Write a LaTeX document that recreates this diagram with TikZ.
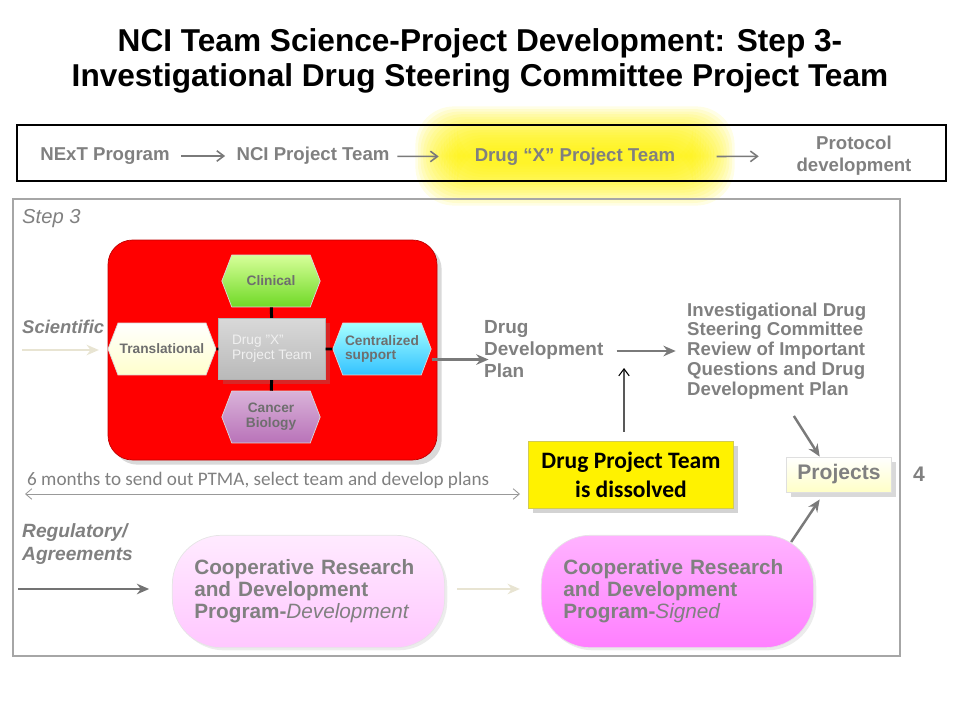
\documentclass[tikz,border=0pt]{standalone}
\usepackage{fontspec}
\setmainfont{Liberation Sans}
\newfontfamily\calib{Carlito}
\usetikzlibrary{arrows.meta,shapes.symbols,shadows}

\definecolor{txtgray}{HTML}{808080}
\definecolor{hexgray}{HTML}{6E6E6E}
\definecolor{arrgray}{HTML}{7A7A7A}
\definecolor{palearr}{HTML}{E8E4D2}
\definecolor{framegray}{HTML}{A6A6A6}

\tikzset{
  hexa/.style={signal, signal to=east and west, signal pointer angle=138,
    minimum width=56pt, minimum height=29.5pt, inner sep=1pt, draw=white!70!gray,
    font=\bfseries\fontsize{7.8}{8.4}\selectfont, text=hexgray, align=left},
  flow/.style={-{Stealth[length=7pt,width=6pt]}, line width=1.4pt, draw=arrgray},
  toparr/.style={-{Straight Barb[length=4pt,width=6pt]}, line width=0.9pt, draw=arrgray},
  graytxt/.style={text=txtgray, font=\bfseries\fontsize{10.6}{12}\selectfont},
  crdbox/.style={rounded corners=28pt, minimum width=155pt, minimum height=64pt,
    text width=130pt, inner xsep=12.5pt, align=left, text=txtgray, draw=white!80!gray,
    font=\bfseries\fontsize{11.8}{12.6}\selectfont, drop shadow={opacity=0.15, shadow xshift=1.5pt, shadow yshift=-1.5pt}}
}

\begin{document}
\begin{tikzpicture}[x=0.02cm,y=-0.02cm]
\useasboundingbox (0,0) rectangle (960,720);

% title
\node[align=center, font=\bfseries\fontsize{18}{19.5}\selectfont] (title) at (480,61)
  {NCI Team Science-Project Development: Step 3-\\Investigational Drug Steering Committee Project Team};

% glow and top strip
\foreach \i in {0,...,16}
  \fill[yellow, opacity=0.1, rounded corners=22pt] (457-2.6*\i,148-2.6*\i) rectangle (693+2.6*\i,164+2.6*\i);
\draw[line width=1.2pt] (17,125) rectangle (946,181);
\node[graytxt] (next) at (105,156) {NExT Program};
\node[graytxt] (nci) at (313,156) {NCI Project Team};
\node[graytxt] (dxt) at (575,157) {Drug “X” Project Team};
\node[graytxt, align=center, font=\bfseries\fontsize{10.6}{12.5}\selectfont] (prot) at (854,156) {Protocol\\development};
\draw[toparr, shorten <=3pt, shorten >=3pt] (next) -- (nci);
\draw[toparr, shorten <=1pt, shorten >=17pt] (nci) -- (dxt);
\draw[toparr, shorten <=20pt, shorten >=18pt] (dxt) -- (prot);

% step 3 frame
\draw[framegray, line width=1.2pt] (13,199) rectangle (900,656);
\node[anchor=west, text=txtgray, font=\itshape\fontsize{11.5}{13}\selectfont] (step) at (16,219) {Step 3};

% team block
\draw[fill=red, draw=red!75!black, rounded corners=14pt, drop shadow={opacity=0.3}] (108,240) rectangle (437,460);
\node[hexa, top color=green!20!lime!40!white, bottom color=green!45!lime!70!gray] (cli) at (271,281) {Clinical};
\node[hexa, top color=white, bottom color=yellow!20!white] (trans) at (162,349) {Translational};
\node[hexa, top color=cyan!35!white, bottom color=cyan!70!blue!80!white] (cen) at (382,349) {Centralized\\support};
\node[hexa, top color=violet!30!white, bottom color=violet!55!white, align=center] (canc) at (271,417) {Cancer\\Biology};
\node[top color=gray!30, bottom color=gray!55, draw=gray!60, minimum width=60.7pt, minimum height=35pt,
  align=left, text=white!88!gray, font=\fontsize{7.8}{8.6}\selectfont, drop shadow={opacity=0.3}] (cbox) at (272,349) {Drug "X"\\Project Team};
\draw[line width=1.7pt] (cbox) -- (cli);
\draw[line width=1.7pt] (cbox) -- (canc);
\draw[line width=1.7pt] (cbox) -- (trans);
\draw[line width=1.7pt] (cbox) -- (cen);

\node[anchor=west, text=txtgray, font=\bfseries\itshape\fontsize{10.5}{12}\selectfont] (sci) at (16,327) {Scientific};
\coordinate (scin) at (22,350);
\draw[flow, draw=palearr, line width=1.2pt, shorten >=5pt] (scin) -- (trans.west |- scin);

% plan and review
\node[graytxt, anchor=west, align=left, font=\bfseries\fontsize{10.8}{12.5}\selectfont] (ddp) at (478,349) {Drug\\Development\\Plan};
\node[graytxt, anchor=west, align=left, font=\bfseries\fontsize{10.6}{11.3}\selectfont] (idsc) at (681,351)
  {Investigational Drug\\Steering Committee\\Review of  Important\\Questions and Drug\\Development Plan};
\draw[flow] ([yshift=-6pt]cen.east) -- ([yshift=-6pt,xshift=6pt]ddp.west);
\draw[flow, shorten <=4pt, shorten >=3pt] (ddp.east |- idsc.west) -- (idsc.west);

\node[fill=yellow, draw=yellow!60!gray, minimum width=117pt, minimum height=38pt, align=center,
  font=\calib\bfseries\fontsize{13.4}{16.4}\selectfont, drop shadow={opacity=0.35}] (dpt) at (631,474.5)
  {Drug Project Team\\is dissolved};
\coordinate (up) at (624,368);
\draw[-{Straight Barb[length=4pt,width=6pt]}, line width=0.6pt, shorten <=5pt] ([xshift=-4pt]dpt.north) -- (up);

\node[top color=white, bottom color=yellow!22!white, draw=white!75!gray, minimum width=60pt, minimum height=20pt,
  text=txtgray, font=\bfseries\fontsize{12}{14}\selectfont, drop shadow={opacity=0.3}] (proj) at (839,474.5) {Projects};
\node[text=txtgray, font=\bfseries\fontsize{12}{14}\selectfont] (four) at (919,474) {4};
\draw[flow, shorten <=7pt] ([xshift=6pt]idsc.south) -- ([xshift=-11pt]proj.north);

% time line
\node[anchor=west, text=txtgray, font=\calib\fontsize{10.9}{12}\selectfont] (months) at (21,480)
  {6 months to send out PTMA, select team and develop plans};
\coordinate (ma) at (25,494);
\coordinate (mb) at (520,494);
\draw[{Straight Barb[length=3.5pt,width=6pt]}-{Straight Barb[length=3.5pt,width=6pt]}, line width=0.5pt, draw=gray!80] (ma) -- (mb);

% agreements
\node[anchor=west, align=left, text=txtgray, font=\bfseries\itshape\fontsize{10.9}{13.6}\selectfont] (reg) at (16,544)
  {Regulatory/\\Agreements};
\node[crdbox, top color=magenta!8!white, bottom color=magenta!22!white] (crd1) at (308.5,591.5)
  {Cooperative Research and Development Program-\textmd{\textit{Development}}};
\node[crdbox, top color=magenta!30!white, bottom color=magenta!50!white] (crd2) at (677.5,591.5)
  {Cooperative Research and Development Program-\textmd{\textit{Signed}}};
\coordinate (regin) at (18,589);
\draw[flow, draw=gray!90!black, line width=1.5pt, shorten >=13pt] (regin) -- (crd1.west |- regin);
\draw[flow, draw=palearr, line width=1.2pt, shorten <=7pt, shorten >=12pt] (crd1.east |- regin) -- (crd2.west |- regin);
\draw[flow] ([xshift=-13pt,yshift=-4pt]crd2.north east) -- ([xshift=-11pt,yshift=-4pt]proj.south);
\end{tikzpicture}
\end{document}
